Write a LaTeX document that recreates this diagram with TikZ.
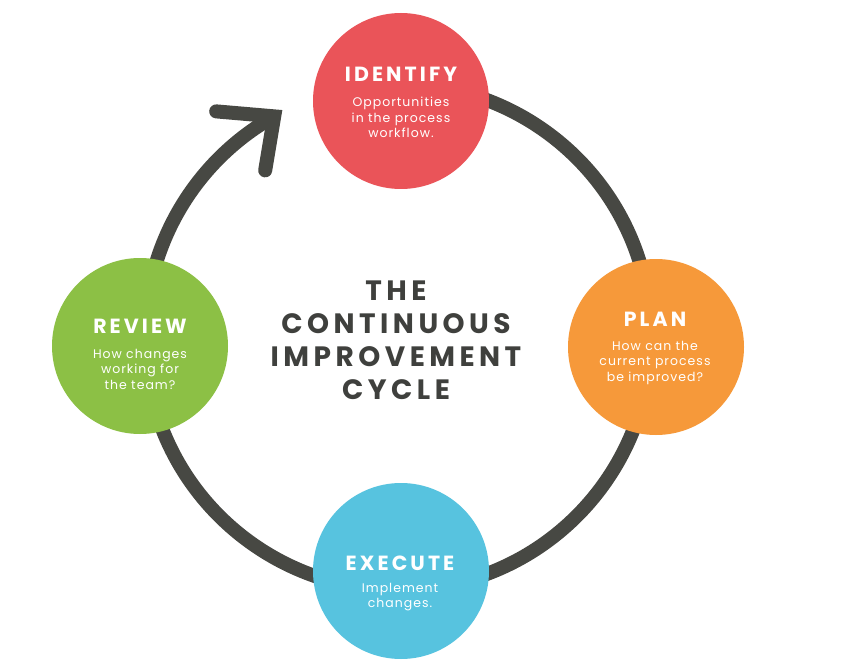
\documentclass[tikz,border=0pt]{standalone}
\usepackage{fontspec}
\setmainfont{Poppins}
\newfontfamily\titlefont[LetterSpace=16]{Poppins}
\newfontfamily\capfont[LetterSpace=15]{Poppins}
\newfontfamily\subfont[LetterSpace=8]{Poppins}
\definecolor{ringgray}{HTML}{474843}
\definecolor{textgray}{HTML}{3F403D}
\definecolor{idred}{HTML}{EA5459}
\definecolor{plorange}{HTML}{F6993A}
\definecolor{exblue}{HTML}{57C3DF}
\definecolor{rvgreen}{HTML}{8CC045}
\tikzset{
  ring/.style={draw=ringgray, line width=14pt},
  bubble/.style={circle, inner sep=0pt, minimum size=176pt, draw=none},
  bubtitle/.style={text=white, font=\capfont\bfseries\fontsize{20.5}{22}\selectfont, inner sep=0pt},
  bubtext/.style={text=white, font=\subfont\fontsize{12.5}{15.5}\selectfont, align=center, inner sep=0pt},
  maintitle/.style={text=textgray, font=\titlefont\bfseries\fontsize{28}{33}\selectfont, align=center, inner sep=0pt}
}
\begin{document}
\begin{tikzpicture}[x=1pt,y=-1pt]
\useasboundingbox (0,0) rectangle (846,663);
\fill[white] (0,0) rectangle (846,663);
\coordinate (c) at (398,337);
% ring with arrow
\draw[ring] (c) ++(265:253) arc[start angle=265, end angle=600.7, radius=253] coordinate (tip);
\draw[ring, line cap=round, line join=miter] (tip) ++(-58,-5) coordinate (armA) -- (tip) -- ++(-9,54) coordinate (armB);
% bubbles
\node[bubble, fill=idred] (identify) at (401,101) {};
\node[bubble, fill=plorange] (plan) at (656,347) {};
\node[bubble, fill=exblue] (execute) at (401,571) {};
\node[bubble, fill=rvgreen] (review) at (140,346) {};
% texts
\node[bubtitle] (identifyT) at (401,74) {IDENTIFY};
\node[bubtext] (identifyS) at (401,117.5) {Opportunities\\in the process\\workflow.};
\node[bubtitle] (planT) at (655,319) {PLAN};
\node[bubtext] (planS) at (655,362.5) {How can the\\current process\\be improved?};
\node[bubtitle] (executeT) at (400,563) {EXECUTE};
\node[bubtext] (executeS) at (400,597) {Implement\\changes.};
\node[bubtitle] (reviewT) at (140,326) {REVIEW};
\node[bubtext] (reviewS) at (140,369) {How changes\\working for\\the team?};
\node[maintitle] (title) at (396,340) {THE\\CONTINUOUS\\IMPROVEMENT\\CYCLE};
\end{tikzpicture}
\end{document}
